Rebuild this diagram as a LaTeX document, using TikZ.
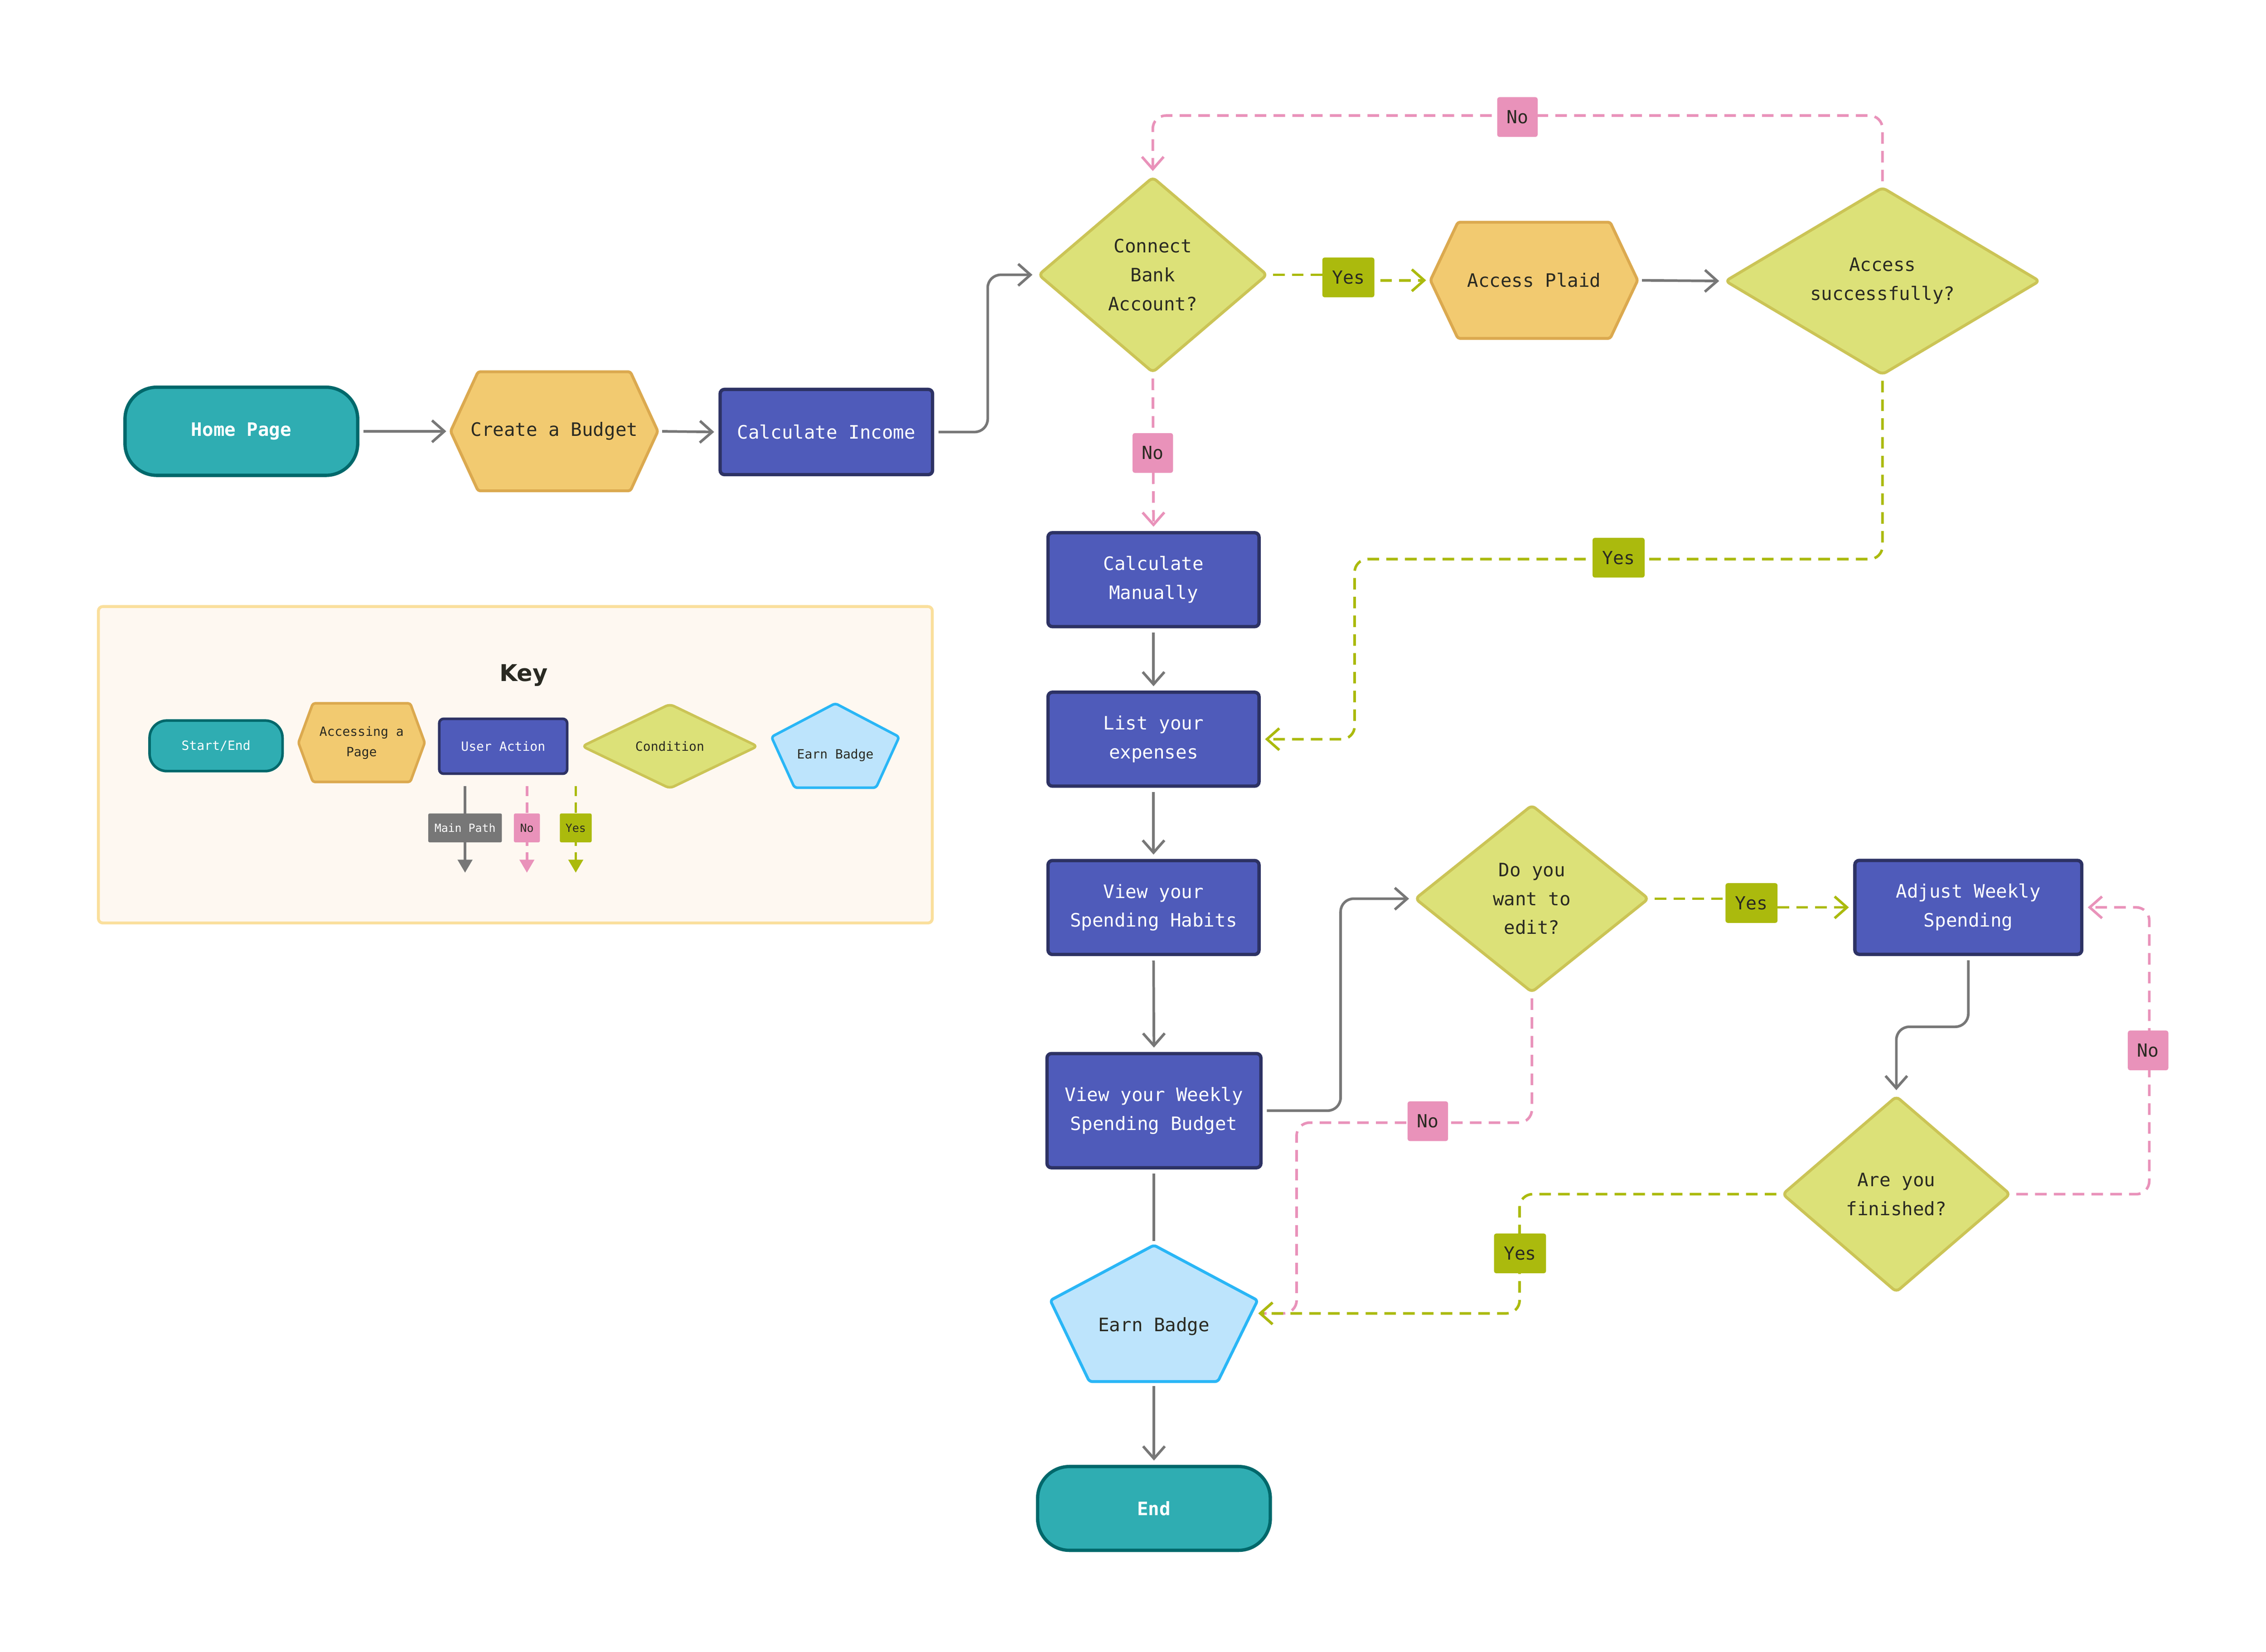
\documentclass[tikz,border=0pt]{standalone}
\usepackage{fontspec}
\setmonofont{DejaVu Sans Mono}
\newfontfamily\titlefont{DejaVu Sans}
\usetikzlibrary{arrows.meta,shapes.geometric,calc}
\definecolor{tealF}{HTML}{2FADB2}
\definecolor{tealD}{HTML}{00686B}
\definecolor{hexF}{HTML}{F2CA70}
\definecolor{hexD}{HTML}{DBA94F}
\definecolor{blueF}{HTML}{4F5BBA}
\definecolor{blueD}{HTML}{2D3264}
\definecolor{diaF}{HTML}{DCE178}
\definecolor{diaD}{HTML}{CBC456}
\definecolor{penF}{HTML}{BDE4FC}
\definecolor{penD}{HTML}{29B6F6}
\definecolor{pathG}{HTML}{777777}
\definecolor{yesC}{HTML}{ABBA0D}
\definecolor{noC}{HTML}{E992BA}
\definecolor{keyF}{HTML}{FEF8F1}
\definecolor{keyD}{HTML}{FADF9C}
\definecolor{ink}{HTML}{2A2A22}
\pgfdeclarelayer{bglayer}
\pgfsetlayers{bglayer,main}
\tikzset{
  txt/.style={font=\ttfamily\fontsize{12.8}{20}\selectfont},
  txtb/.style={font=\ttfamily\bfseries\fontsize{12.8}{20}\selectfont},
  ktxt/.style={font=\ttfamily\fontsize{8.8}{14}\selectfont},
  terminal/.style={rectangle, rounded corners=22pt, fill=tealF, draw=tealD, line width=2.3pt, text=white, align=center, inner sep=0pt},
  action/.style={rectangle, rounded corners=3pt, fill=blueF, draw=blueD, line width=2.3pt, text=white, align=center, inner sep=0pt},
  decision/.style={diamond, rounded corners=3pt, fill=diaF, draw=diaD, line width=2pt, text=ink, align=center, inner sep=0pt},
  boxonly/.style={rectangle, text=ink, align=center, inner sep=0pt},
  hexshape/.style={fill=hexF, draw=hexD, line width=2pt, line join=round, rounded corners=1.5pt},
  penshape/.style={fill=penF, draw=penD, line width=2pt, line join=round, rounded corners=2pt},
  keyframe/.style={rectangle, rounded corners=3pt, fill=keyF, draw=keyD, line width=2pt},
  gline/.style={draw=pathG, line width=1.8pt, rounded corners=9pt, shorten >=3pt, shorten <=3pt},
  garrow/.style={gline, -{Straight Barb[length=8.5pt,width=15pt]}},
  yline/.style={draw=yesC, line width=1.8pt, dash pattern=on 8pt off 5pt, rounded corners=9pt, shorten >=3pt, shorten <=3pt, -{Straight Barb[length=8.5pt,width=15pt]}},
  nline/.style={draw=noC, line width=1.8pt, dash pattern=on 8pt off 5pt, rounded corners=9pt, shorten >=3pt, shorten <=3pt, -{Straight Barb[length=8.5pt,width=15pt]}},
  yeslab/.style={rectangle, fill=yesC, text=ink, rounded corners=1.5pt, minimum width=36pt, minimum height=27.5pt, inner sep=0pt, font=\ttfamily\fontsize{12.5}{14}\selectfont},
  nolab/.style={yeslab, fill=noC, minimum width=28pt},
  kyes/.style={rectangle, fill=yesC, text=ink, rounded corners=1pt, minimum height=20pt, minimum width=22pt, inner sep=0pt, font=\ttfamily\fontsize{7.8}{9}\selectfont},
  kno/.style={kyes, fill=noC, minimum width=18pt},
  kmain/.style={kyes, fill=pathG, text=white, minimum width=51pt},
  kgline/.style={draw=pathG, line width=1.8pt, -{Triangle[length=9pt,width=10pt]}},
  kyline/.style={draw=yesC, line width=1.8pt, dash pattern=on 7pt off 4.5pt, -{Triangle[length=9pt,width=10pt]}},
  knline/.style={draw=noC, line width=1.8pt, dash pattern=on 7pt off 4.5pt, -{Triangle[length=9pt,width=10pt]}},
}
\begin{document}
\begin{tikzpicture}[x=1pt,y=-1pt]
\useasboundingbox (0,0) rectangle (1568,1143.2);
\begin{pgfonlayer}{bglayer}
  \fill[white] (0,0) rectangle (1568,1143.2);
  \node[keyframe, minimum width=577pt, minimum height=219pt] (kbox) at (356.6,529.3) {};
\end{pgfonlayer}

% ---------- main flow nodes ----------
\node[terminal, txtb, minimum width=161pt, minimum height=61pt] (hp) at (167,298.5) {Home Page};
\node[boxonly, txt, minimum width=143pt, minimum height=82pt] (cb) at (383.5,298.5) {Create a Budget};
\node[action, txt, minimum width=147pt, minimum height=59pt] (ci) at (571.8,299) {Calculate Income};
\node[decision, txt, minimum width=158.6pt, minimum height=135.6pt, shape aspect=1.17] (cba) at (797.7,190.2) {Connect\\Bank\\Account?};
\node[boxonly, txt, minimum width=143pt, minimum height=80pt] (ap) at (1061.5,194) {Access Plaid};
\node[decision, txt, minimum width=218pt, minimum height=130pt, shape aspect=1.68] (as) at (1302.6,194.5) {Access\\successfully?};
\node[action, txt, minimum width=146pt, minimum height=65pt] (cm) at (798.2,401.2) {Calculate\\Manually};
\node[action, txt, minimum width=146pt, minimum height=65pt] (le) at (798.2,511.6) {List your\\expenses};
\node[action, txt, minimum width=146pt, minimum height=65pt] (sh) at (798.2,628.1) {View your\\Spending Habits};
\node[action, txt, minimum width=148pt, minimum height=79pt] (wb) at (798.5,768.7) {View your Weekly\\Spending Budget};
\node[boxonly, minimum width=143pt, minimum height=94pt] (eb) at (798.5,909) {};
\node[txt, text=ink] (ebt) at (798.5,918) {Earn Badge};
\node[terminal, txtb, minimum width=161pt, minimum height=58pt] (end) at (798.5,1044) {End};
\node[decision, txt, minimum width=162pt, minimum height=130pt, shape aspect=1.25] (dye) at (1060,622) {Do you\\want to\\edit?};
\node[action, txt, minimum width=157pt, minimum height=65pt] (adj) at (1362,628) {Adjust Weekly\\Spending};
\node[decision, txt, minimum width=158pt, minimum height=136pt, shape aspect=1.16] (fin) at (1312.2,826.5) {Are you\\finished?};

% ---------- key nodes ----------
\node[font=\titlefont\bfseries\fontsize{16}{19}\selectfont, text=ink] (ktitle) at (362.3,467.5) {Key};
\node[terminal, ktxt, rounded corners=12pt, line width=1.8pt, minimum width=92pt, minimum height=35pt] (kse) at (149.5,516.2) {Start/End};
\node[boxonly, ktxt, minimum width=87pt, minimum height=54pt] (khex) at (250.2,514) {Accessing a\\Page};
\node[action, ktxt, line width=1.8pt, minimum width=88.5pt, minimum height=38pt] (kua) at (348.2,516.5) {User Action};
\node[decision, ktxt, line width=1.8pt, minimum width=122pt, minimum height=59pt, shape aspect=2.07] (kcond) at (463.5,516.5) {Condition};
\node[boxonly, minimum width=88pt, minimum height=58pt] (kpen) at (578,516) {};
\node[ktxt, text=ink] (kpent) at (578,522.6) {Earn Badge};

% ---------- custom shapes (behind text) ----------
\begin{pgfonlayer}{bglayer}
  \draw[hexshape] (cb.west) -- ([xshift=19pt]cb.north west) -- ([xshift=-19pt]cb.north east) -- (cb.east) -- ([xshift=-19pt]cb.south east) -- ([xshift=19pt]cb.south west) -- cycle;
  \draw[hexshape] (ap.west) -- ([xshift=19pt]ap.north west) -- ([xshift=-19pt]ap.north east) -- (ap.east) -- ([xshift=-19pt]ap.south east) -- ([xshift=19pt]ap.south west) -- cycle;
  \draw[hexshape, line width=1.8pt] (khex.west) -- ([xshift=10pt]khex.north west) -- ([xshift=-10pt]khex.north east) -- (khex.east) -- ([xshift=-10pt]khex.south east) -- ([xshift=10pt]khex.south west) -- cycle;
  \draw[penshape] (eb.north) -- ([yshift=9pt]eb.east) -- ([xshift=-27.5pt]eb.south east) -- ([xshift=27pt]eb.south west) -- ([yshift=9pt]eb.west) -- cycle;
  \draw[penshape, line width=1.8pt] (kpen.north) -- ([yshift=6pt]kpen.east) -- ([xshift=-16pt]kpen.south east) -- ([xshift=16pt]kpen.south west) -- ([yshift=6pt]kpen.west) -- cycle;
\end{pgfonlayer}

% ---------- label positions ----------
\coordinate (cy1) at (933,192);
\coordinate (cn1) at (1050,81);
\coordinate (cn2) at (797.7,313.5);
\coordinate (cy2) at (1120,386);
\coordinate (cy3) at (1212,625);
\coordinate (cn3) at (1486.4,727);
\coordinate (cy4) at (1051.8,867.5);
\coordinate (cn4) at (988,776);

% ---------- connectors ----------
\draw[garrow] (hp.east) -- (cb.west);
\draw[garrow] (cb.east) -- (ci.west);
\draw[garrow] (ci.east) -- ++(37,0) |- (cba.west);
\draw[yline, rounded corners=0pt] (cba.east) -- (cba.east -| cy1) -- (cy1 |- ap.west) -- (ap.west);
\draw[garrow] (ap.east) -- (as.west);
\draw[nline] (as.north) -- ++(0,-48.5) -| (cba.north);
\draw[nline] (cba.south) -- (cm.north);
\draw[yline] (as.south) -- ++(0,126.5) -| ($(le.east)+(65,0)$) -- (le.east);
\draw[garrow] (cm.south) -- (le.north);
\draw[garrow] (le.south) -- (sh.north);
\draw[garrow] (sh.south) -- (wb.north);
\draw[garrow] (wb.east) -- ++(54,0) |- (dye.west);
\draw[yline, rounded corners=0pt] (dye.east) -- (dye.east -| cy3) -- (cy3 |- adj.west) -- (adj.west);
\draw[garrow] (adj.south) -- ++(0,49) -| (fin.north);
\draw[nline] (fin.east) -- ++(95,0) |- (adj.east);
\draw[nline, shorten >=0.5pt] (dye.south) -- ++(0,89) -| ($(eb.east)+(27,0)$) -- (eb.east);
\draw[yline, shorten >=0.5pt] (fin.west) -| ($(eb.east)+(181.3,0)$) -- (eb.east);
\draw[gline] (wb.south) -- (eb.north);
\draw[garrow] (eb.south) -- (end.north);

% ---------- connector labels ----------
\node[yeslab] (ly1) at (cy1) {Yes};
\node[nolab] (ln1) at (cn1) {No};
\node[nolab] (ln2) at (cn2) {No};
\node[yeslab] (ly2) at (cy2) {Yes};
\node[yeslab] (ly3) at (cy3) {Yes};
\node[nolab] (ln3) at (cn3) {No};
\node[yeslab] (ly4) at (cy4) {Yes};
\node[nolab] (ln4) at (cn4) {No};

% ---------- key connectors ----------
\coordinate (kgA) at (321.8,544);
\coordinate (kgB) at (321.8,604);
\coordinate (knA) at (364.6,544);
\coordinate (knB) at (364.6,604);
\coordinate (kyA) at (398.4,544);
\coordinate (kyB) at (398.4,604);
\draw[kgline] (kgA) -- (kgB);
\draw[knline] (knA) -- (knB);
\draw[kyline] (kyA) -- (kyB);
\node[kmain] (klm) at (321.8,573) {Main Path};
\node[kno] (kln) at (364.6,573) {No};
\node[kyes] (kly) at (398.4,573) {Yes};
\end{tikzpicture}
\end{document}
